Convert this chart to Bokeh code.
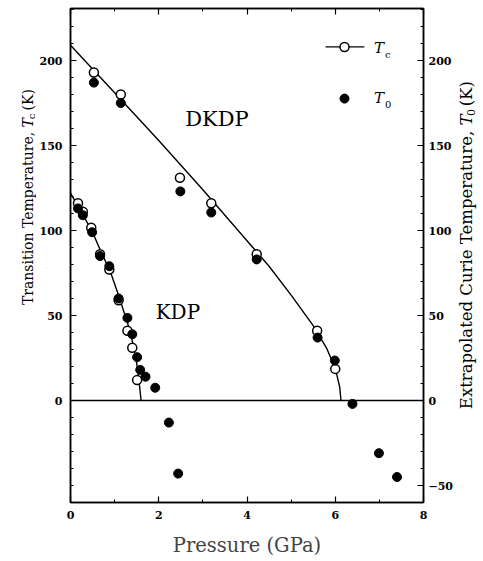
import math
from bokeh.plotting import figure
from bokeh.layouts import row
from bokeh.models import Range1d, LinearAxis, FixedTicker, Label, Span
from bokeh.embed import file_html
from bokeh.resources import INLINE

# ---------------- data ----------------
# DKDP
dkdp_p_tc = [0.53, 1.14, 2.48, 3.19, 4.22, 5.59, 6.00]
dkdp_tc = [193, 180, 131, 116, 86, 41, 18.6]
dkdp_p_t0 = [0.53, 1.14, 2.49, 3.19, 4.22, 5.60, 5.99, 6.39, 6.99, 7.40]
dkdp_t0 = [187, 175, 123, 110.6, 83, 37, 23.5, -2, -31, -45]
# KDP
kdp_p_tc = [0.17, 0.28, 0.47, 0.67, 0.88, 1.09, 1.29, 1.40, 1.51]
kdp_tc = [116, 111, 101.6, 86, 77, 59, 41, 31, 12]
kdp_p_t0 = [0.17, 0.28, 0.49, 0.67, 0.88, 1.09, 1.29, 1.40, 1.51, 1.58, 1.70, 1.92, 2.23, 2.44]
kdp_t0 = [113, 109, 99, 85, 79, 60, 48.6, 39, 25.5, 18, 14, 7.5, -13, -43]
# fitted phase boundaries (traced)
dkdp_fit_p = [0, 1, 2, 3, 4, 4.5, 5, 5.5, 5.8, 6.0, 6.1, 6.13]
dkdp_fit_t = [209, 181, 153, 124, 94, 79, 62, 44, 31, 19, 8, 0]
kdp_fit_p = [0, 0.2, 0.5, 0.7, 0.9, 1.1, 1.3, 1.4, 1.5, 1.55, 1.6]
kdp_fit_t = [122, 113, 99, 87, 76, 61, 45, 35, 22, 12, 0]

x_major = [0, 2, 4, 6, 8]
x_minor = [1, 3, 5, 7]
y_major_left = [0, 50, 100, 150, 200]
y_major_right = [-50, 0, 50, 100, 150, 200]
y_minor = list(range(-60, 231, 10))

X0, X1 = 0, 8
Y0, Y1 = -60, 230.6

SERIF = "DejaVu Serif"
H = 561

p = figure(width=420, height=H, x_range=Range1d(X0, X1), y_range=Range1d(Y0, Y1),
           output_backend="svg", toolbar_location=None,
           min_border_left=34, min_border_right=29, min_border_top=8, min_border_bottom=59)
p.xgrid.visible = False
p.ygrid.visible = False
p.outline_line_color = "black"
p.outline_line_width = 1.5
p.background_fill_color = "white"


def style_axis(ax):
    ax.axis_line_color = "black"
    ax.axis_line_width = 1.5
    ax.major_tick_in = 6
    ax.major_tick_out = 0
    ax.minor_tick_in = 3
    ax.minor_tick_out = 0
    ax.major_tick_line_width = 1.2
    ax.minor_tick_line_width = 1
    ax.major_label_text_font = SERIF
    ax.major_label_text_font_style = "bold"
    ax.major_label_text_font_size = "11px"
    ax.major_label_text_color = "black"


# bottom axis
xa = p.xaxis[0]
xa.ticker = FixedTicker(ticks=x_major, minor_ticks=x_minor)
style_axis(xa)
xa.major_label_standoff = 8
xa.axis_label = "Pressure (GPa)"
xa.axis_label_text_font = SERIF
xa.axis_label_text_font_style = "normal"
xa.axis_label_text_font_size = "19.5px"
xa.axis_label_standoff = 12

# left axis
ya = p.yaxis[0]
ya.ticker = FixedTicker(ticks=y_major_left, minor_ticks=y_minor)
style_axis(ya)
ya.major_label_standoff = 8

# right axis
yr = LinearAxis(ticker=FixedTicker(ticks=y_major_right, minor_ticks=y_minor))
style_axis(yr)
yr.major_label_standoff = 5
p.add_layout(yr, "right")

# top axis (ticks only, no labels)
xt = LinearAxis(ticker=FixedTicker(ticks=x_major, minor_ticks=x_minor))
style_axis(xt)
xt.major_label_overrides = {t: "" for t in x_major}
xt.major_label_standoff = 0
p.add_layout(xt, "above")

# zero line
p.add_layout(Span(location=0, dimension="width", line_color="black", line_width=1.5))

# fitted curves
p.line(dkdp_fit_p, dkdp_fit_t, line_color="black", line_width=1.4)
p.line(kdp_fit_p, kdp_fit_t, line_color="black", line_width=1.4)

# data points
p.scatter(dkdp_p_tc, dkdp_tc, marker="circle", size=9, fill_color="white", line_color="black", line_width=1.5)
p.scatter(kdp_p_tc, kdp_tc, marker="circle", size=9, fill_color="white", line_color="black", line_width=1.5)
p.scatter(dkdp_p_t0, dkdp_t0, marker="circle", size=9, fill_color="black", line_color="black")
p.scatter(kdp_p_t0, kdp_t0, marker="circle", size=9, fill_color="black", line_color="black")

# legend (hand drawn, like the original)
leg_x = [5.78, 6.66]
leg_tc_y = [208, 208]
p.line(leg_x, leg_tc_y, line_color="black", line_width=1.4)
p.scatter([6.21], [208], marker="circle", size=9, fill_color="white", line_color="black", line_width=1.5)
p.scatter([6.21], [177.6], marker="circle", size=9, fill_color="black", line_color="black")


def lab(fig, x, y, text, size, style="normal", align="left", angle=0.0):
    fig.add_layout(Label(x=x, y=y, text=text, angle=angle, text_align=align,
                         text_baseline="middle", text_font=SERIF, text_font_size=f"{size}px",
                         text_font_style=style, text_color="black"))


lab(p, 6.88, 207.4, "T", 15, "italic")
lab(p, 7.13, 203.6, "c", 10)
lab(p, 6.88, 178.0, "T", 15, "italic")
lab(p, 7.13, 174.2, "0", 10)

lab(p, 2.60, 165.6, "DKDP", 21)
lab(p, 1.93, 52.0, "KDP", 20)


def side_fig(w):
    f = figure(width=w, height=H, x_range=Range1d(0, w), y_range=Range1d(H, 0),
               output_backend="svg", toolbar_location=None,
               x_axis_type=None, y_axis_type=None,
               min_border_left=0, min_border_right=0, min_border_top=0, min_border_bottom=0)
    f.xgrid.visible = False
    f.ygrid.visible = False
    f.outline_line_color = None
    return f


A = math.pi / 2

# left title (rotated, reads bottom to top)
lf = side_fig(36)
ls = 14
lx, ly = 27, 135
lab(lf, lx, ly, "Transition Temperature, ", ls, align="right", angle=A)
lab(lf, lx, ly, "T", ls, "italic", angle=A)
lab(lf, lx + 4.4, ly - 0.66 * ls, "c", 10, angle=A)
lab(lf, lx, ly - 0.66 * ls - 10, "(K)", ls, angle=A)

# right title (rotated)
rf = side_fig(26)
rs = 16.5
rx, ry = 10, 133
lab(rf, rx, ry, "Extrapolated Curie Temperature, ", rs, align="right", angle=A)
lab(rf, rx, ry, "T", rs, "italic", angle=A)
lab(rf, rx + 4.7, ry - 0.66 * rs, "0", 11, angle=A)
lab(rf, rx, ry - 0.66 * rs - 11, "(K)", rs, angle=A)

layout = row(lf, p, rf, spacing=0)
open("out.html", "w").write(file_html(layout, INLINE))
